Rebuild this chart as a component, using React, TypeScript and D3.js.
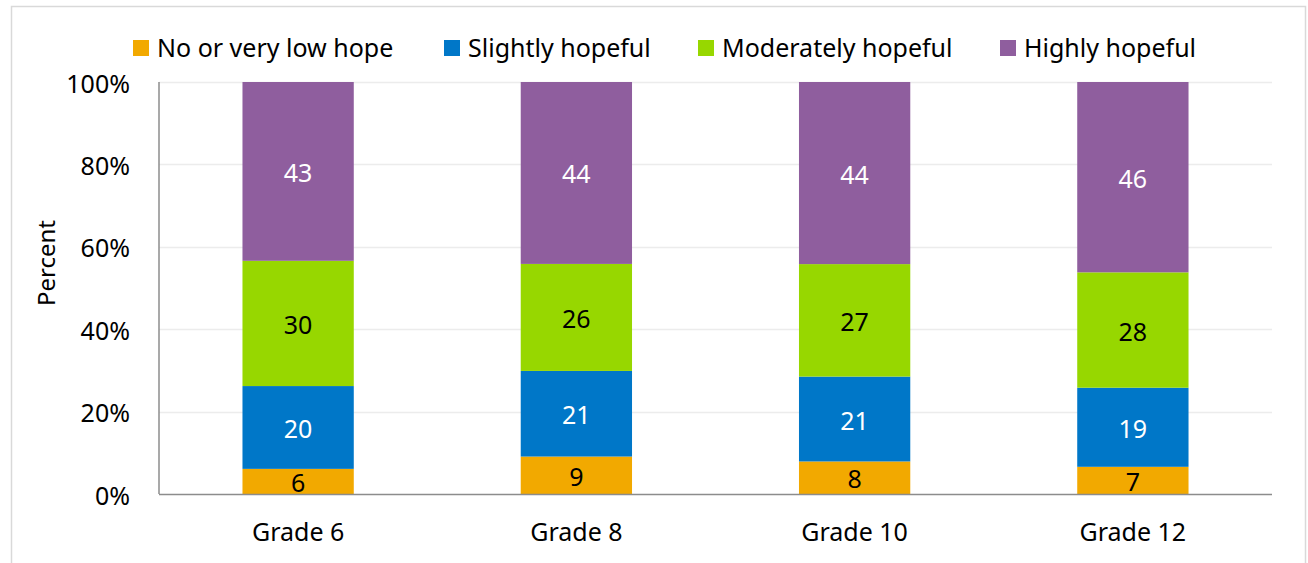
import React from "react";
import * as d3 from "d3";

const categories = ["Grade 6", "Grade 8", "Grade 10", "Grade 12"];
const seriesNames = ["No or very low hope", "Slightly hopeful", "Moderately hopeful", "Highly hopeful"];
const noHope = [6.1, 9.1, 7.9, 6.6];
const slightly = [20.1, 20.8, 20.6, 19.2];
const moderately = [30.4, 26.0, 27.3, 28.0];
const highly = [43.4, 44.2, 44.2, 46.2];
const labelsNoHope = [6, 9, 8, 7];
const labelsSlightly = [20, 21, 21, 19];
const labelsModerately = [30, 26, 27, 28];
const labelsHighly = [43, 44, 44, 46];
const yTicks = [0, 20, 40, 60, 80, 100];

const colors = ["#F2A900", "#0077C8", "#97D700", "#8F5E9E"];
const labelColors = ["#000000", "#ffffff", "#000000", "#ffffff"];
const legendX = [133, 444, 698, 1000];
const FONT = "'Noto Sans', 'Open Sans', sans-serif";

export default function App() {
  const W = 1308, H = 563;
  const left = 159, right = 1272, top = 82, bottom = 494;
  const x = d3.scaleBand<string>().domain(categories).range([left, right]).padding(0);
  const y = d3.scaleLinear().domain([0, 100]).range([bottom, top]);
  const barW = x.bandwidth() * 0.4;

  const allVals = [noHope, slightly, moderately, highly];
  const allLabels = [labelsNoHope, labelsSlightly, labelsModerately, labelsHighly];
  const rows = categories.map((c, i) => {
    const r: any = { cat: c };
    seriesNames.forEach((s, k) => (r[s] = allVals[k][i]));
    return r;
  });
  const stacked = d3.stack<any>().keys(seriesNames).offset(d3.stackOffsetExpand)(rows);

  return (
    <svg width={W} height={H} style={{ position: "absolute", left: 0, top: 0, background: "#fff" }} fontFamily={FONT}>
      <rect x={11.5} y={6.5} width={1294} height={620} fill="#fff" stroke="#d9d9d9" strokeWidth={1.5} />
      {yTicks.filter((t) => t > 0).map((t) => (
        <line key={t} x1={left} x2={right} y1={Math.round(y(t)) + 0.5} y2={Math.round(y(t)) + 0.5} stroke="#ececec" strokeWidth={1.5} />
      ))}
      {stacked.map((layer, k) => (
        <g key={layer.key}>
          {layer.map((d, i) => {
            const cx = (x(categories[i]) as number) + x.bandwidth() / 2;
            const y0 = y(d[0] * 100), y1 = y(d[1] * 100);
            return (
              <g key={i}>
                <rect x={cx - barW / 2} y={y1} width={barW} height={y0 - y1} fill={colors[k]} />
                <text x={cx} y={(y0 + y1) / 2 + 1} dy="0.38em" textAnchor="middle" fontSize={25} fill={labelColors[k]}>
                  {allLabels[k][i]}
                </text>
              </g>
            );
          })}
        </g>
      ))}
      <line x1={left} x2={left} y1={top} y2={bottom} stroke="#8c8c8c" strokeWidth={1.5} />
      <line x1={left} x2={right} y1={bottom + 0.5} y2={bottom + 0.5} stroke="#8c8c8c" strokeWidth={1.5} />
      {yTicks.map((t) => (
        <text key={t} x={130} y={y(t) + 1} dy="0.38em" textAnchor="end" fontSize={25} fill="#000">
          {t}%
        </text>
      ))}
      {categories.map((c) => (
        <text key={c} x={(x(c) as number) + x.bandwidth() / 2} y={541} textAnchor="middle" fontSize={25} fill="#000">
          {c}
        </text>
      ))}
      <text transform={`translate(55,263) rotate(-90)`} textAnchor="middle" fontSize={24} fill="#000">
        Percent
      </text>
      {seriesNames.map((s, k) => (
        <g key={s}>
          <rect x={legendX[k]} y={40} width={16} height={16} fill={colors[k]} />
          <text x={legendX[k] + 24} y={57} fontSize={25} fill="#000">
            {s}
          </text>
        </g>
      ))}
    </svg>
  );
}
